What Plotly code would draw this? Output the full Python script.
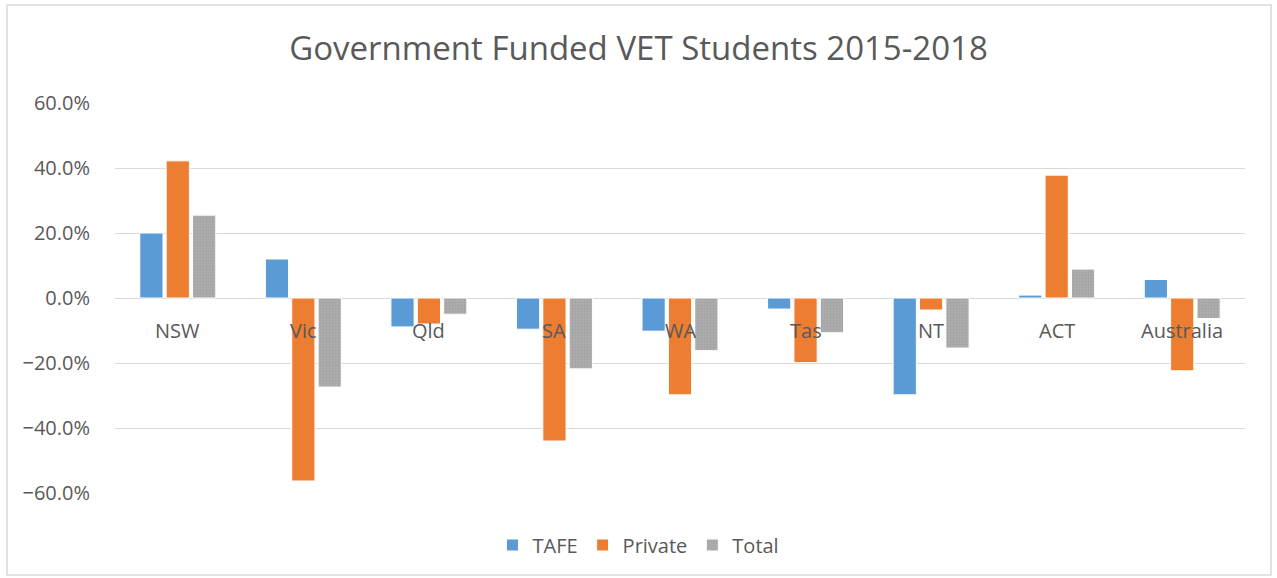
import plotly.graph_objects as go

categories = ["NSW", "Vic", "Qld", "SA", "WA", "Tas", "NT", "ACT", "Australia"]
tafe = [0.200, 0.120, -0.089, -0.096, -0.102, -0.034, -0.298, 0.009, 0.057]
private = [0.422, -0.563, -0.080, -0.440, -0.298, -0.199, -0.037, 0.378, -0.224]
total = [0.255, -0.274, -0.050, -0.218, -0.162, -0.107, -0.154, 0.089, -0.063]
y_ticks = [-0.6, -0.4, -0.2, 0.0, 0.2, 0.4, 0.6]

text_color = "#595959"
font_family = "'Open Sans', Lato, sans-serif"

fig = go.Figure()
fig.add_trace(go.Bar(name="TAFE", x=categories, y=tafe,
                     marker=dict(color="#5b9bd5", line=dict(color="white", width=1))))
fig.add_trace(go.Bar(name="Private", x=categories, y=private,
                     marker=dict(color="#ed7d31", line=dict(color="white", width=1))))
fig.add_trace(go.Bar(name="Total", x=categories, y=total,
                     marker=dict(color="#a5a5a5", line=dict(color="white", width=1),
                                 pattern=dict(shape=".", fgcolor="#959595", bgcolor="#b0b0b0",
                                              size=3, solidity=0.5))))

for c in categories:
    fig.add_annotation(x=c, y=0, xref="x", yref="y", text=c, showarrow=False,
                       yanchor="top", yshift=-17,
                       font=dict(size=20, color=text_color, family=font_family))

W, H = 1277, 578
L, R, T, B = 115, 32, 103, 85
pw, ph = W - L - R, H - T - B
# light grey chart-area border
fig.add_shape(type="rect", xref="paper", yref="paper",
              x0=(7 - L) / pw, x1=(1271 - L) / pw,
              y0=(H - B - 575) / ph, y1=(H - B - 5) / ph,
              line=dict(color="#d9d9d9", width=1.5), layer="below")

fig.update_layout(
    width=W, height=H,
    margin=dict(l=L, r=R, t=T, b=B),
    plot_bgcolor="white", paper_bgcolor="white",
    barmode="group", bargap=0.37, bargroupgap=0.12,
    title=dict(text="Government Funded VET Students 2015-2018",
               x=0.5, xanchor="center", y=1 - 48 / H, yanchor="middle", yref="container",
               font=dict(size=33, color=text_color, family=font_family)),
    font=dict(family=font_family, color=text_color),
    xaxis=dict(showticklabels=False, showgrid=False, zeroline=False, showline=False, ticks=""),
    yaxis=dict(range=[-0.6, 0.6], tickvals=y_ticks, tickformat=".1%",
               showgrid=True, gridcolor="#d9d9d9", gridwidth=1,
               zeroline=True, zerolinecolor="#d9d9d9", zerolinewidth=1,
               showline=False, ticks="", ticklabelstandoff=24,
               tickfont=dict(size=20, color=text_color, family=font_family)),
    legend=dict(orientation="h", x=0.5, xanchor="center", xref="container",
                y=1 - 545 / H, yref="container", yanchor="middle",
                font=dict(size=20, color=text_color, family=font_family),
                itemwidth=30, traceorder="normal"),
)

fig.write_html("out.html", config={"displayModeBar": False},
               post_script="document.body.style.margin='0px';")
